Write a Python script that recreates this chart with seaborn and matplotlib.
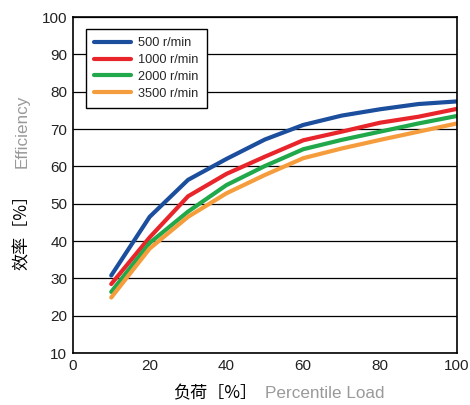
import numpy as np
import pandas as pd
import seaborn as sns
import matplotlib
matplotlib.use("Agg")
import matplotlib.pyplot as plt

load = [10, 20, 30, 40, 50, 60, 70, 80, 90, 100]
eff_500 = [30.8, 46.5, 56.4, 62.0, 67.2, 71.1, 73.6, 75.3, 76.7, 77.4]
eff_1000 = [28.5, 41.0, 52.0, 58.0, 62.6, 67.0, 69.3, 71.7, 73.3, 75.4]
eff_2000 = [26.4, 39.5, 47.9, 55.0, 60.1, 64.6, 67.1, 69.3, 71.5, 73.5]
eff_3500 = [24.9, 38.0, 46.5, 52.8, 57.7, 62.2, 64.8, 67.1, 69.3, 71.5]
speeds = ["500 r/min", "1000 r/min", "2000 r/min", "3500 r/min"]
colors = ["#1c4e9e", "#e8252a", "#21a84b", "#f59d3d"]

frames = []
for name, vals in zip(speeds, [eff_500, eff_1000, eff_2000, eff_3500]):
    frames.append(pd.DataFrame({"load": load, "eff": vals, "speed": name}))
df = pd.concat(frames, ignore_index=True)

sns.set_style("white")
plt.rcParams['font.family'] = ['Liberation Sans', 'Noto Sans CJK SC', 'DejaVu Sans']

fig = plt.figure(figsize=(4.7, 4.05), dpi=100)
ax = fig.add_axes([0.155, 0.128, 0.817, 0.83])

sns.lineplot(data=df, x="load", y="eff", hue="speed", palette=colors,
             linewidth=3.0, ax=ax, solid_capstyle="round")

ax.set_xlim(0, 100)
ax.set_ylim(10, 100)
ax.set_xticks(range(0, 101, 20))
ax.set_yticks(range(10, 101, 10))
ax.tick_params(length=0, labelsize=11, colors="#222222", pad=4)
ax.grid(axis="y", color="black", linewidth=0.9)
ax.grid(axis="x", visible=False)
ax.set_axisbelow(True)
for s in ax.spines.values():
    s.set_color("black")
    s.set_linewidth(1.2)
ax.set_xlabel("")
ax.set_ylabel("")

leg = ax.legend(loc="upper left", bbox_to_anchor=(0.034, 0.964), fontsize=9.2,
                handlelength=2.9, handletextpad=0.55, labelspacing=0.37,
                fancybox=False, framealpha=1, edgecolor="black",
                borderpad=0.65, borderaxespad=0)
leg.get_frame().set_linewidth(1.0)
for line in leg.get_lines():
    line.set_linewidth(3.0)

cjk = ['Noto Sans CJK SC', 'DejaVu Sans']
fig.text(173 / 470, 1 - 393 / 405, "负荷［%］", family=cjk, fontsize=12.3,
         color="black", va="center", ha="left")
fig.text(265 / 470, 1 - 394 / 405, "Percentile Load", fontsize=12.3,
         color="#9a9a9a", va="center", ha="left")
fig.text(22 / 470, 1 - 270 / 405, "效率［%］", family=cjk, fontsize=12.3,
         color="black", va="bottom", ha="center", rotation=90)
fig.text(22 / 470, 1 - 168 / 405, "Efficiency", fontsize=12.3,
         color="#9a9a9a", va="bottom", ha="center", rotation=90)

fig.savefig("out.png", dpi=100)
